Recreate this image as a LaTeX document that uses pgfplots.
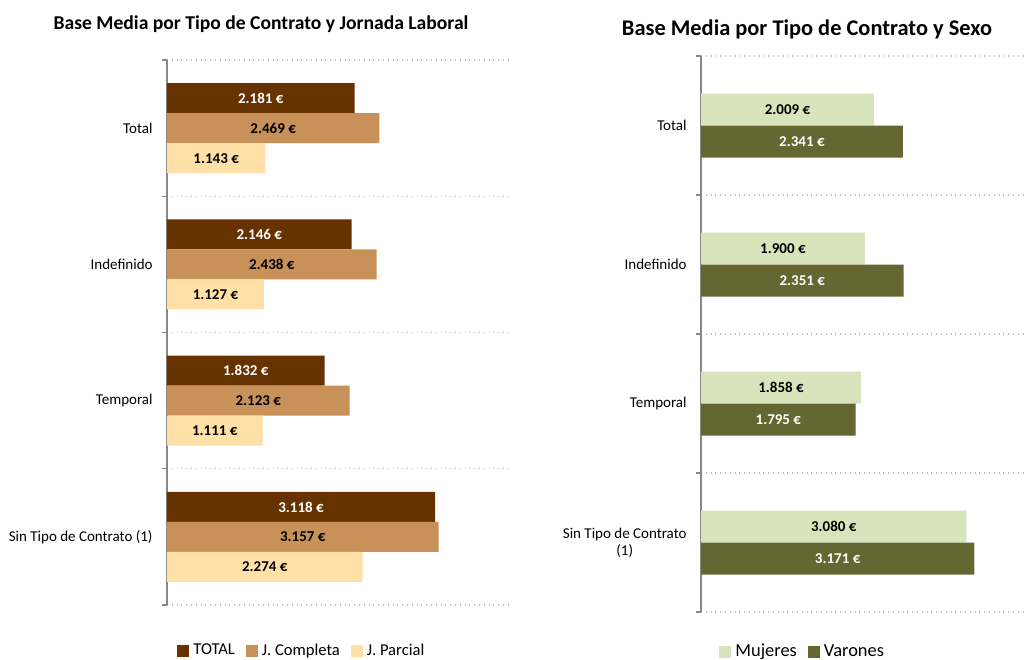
\documentclass[border=0pt]{standalone}
\usepackage{fontspec}
\setmainfont{Carlito}
\usepackage{pgfplots}
\pgfplotsset{compat=1.18}

\definecolor{cTotal}{RGB}{102,51,0}
\definecolor{cComp}{RGB}{200,145,90}
\definecolor{cParc}{RGB}{255,224,166}
\definecolor{cMuj}{RGB}{216,228,188}
\definecolor{cVar}{RGB}{102,102,51}
\definecolor{cGrid}{RGB}{200,190,150}
\definecolor{cAxis}{RGB}{135,135,135}

% shared look of both panels (1 px of the reference = 0.5pt)
\pgfplotsset{
  panel/.style={
    xbar, scale only axis, clip=false,
    y dir=reverse, ymin=-0.5, ymax=3.5,
    xmin=0,
    axis x line=none, axis y line*=left,
    y axis line style={draw=cAxis, line width=0.8pt},
    ytick={0,1,2,3}, major tick length=0pt,
    minor ytick={-0.5,0.5,1.5,2.5,3.5}, minor tick length=2.5pt,
    tick align=outside, tick style={draw=cAxis, line width=0.6pt},
    yminorgrids=true,
    minor grid style={draw=cGrid, dotted, line width=0.6pt},
    yticklabel style={font=\fontsize{7.5}{8.5}\selectfont, inner sep=0pt, xshift=-7pt, align=right},
    /pgf/number format/assume math mode=true,
    /pgf/number format/1000 sep={.},
    /pgf/number format/fixed, /pgf/number format/precision=0,
    visualization depends on=rawx \as \rawx,
    nodes near coords={\pgfmathprintnumber{\pgfplotspointmeta}~€},
    every node near coord/.append style={anchor=center, font=\bfseries\fontsize{7.5}{8.5}\selectfont,
      shift={(axis direction cs:-\rawx/2,0)}},
    legend columns=-1,
    legend style={draw=none, fill=none, inner sep=0pt,
      /tikz/every even column/.append style={column sep=3.5pt}},
    legend image code/.code={\fill[##1] (0pt,-3pt) rectangle (6pt,3pt);},
  },
}

\begin{document}
\begin{tikzpicture}
\useasboundingbox (0,0) rectangle (514pt,-329.5pt);

% left panel
\node[font=\bfseries\fontsize{9.8}{11}\selectfont] at (130.5pt,-12pt) {Base Media por Tipo de Contrato y Jornada Laboral};
\begin{axis}[panel,
  at={(83.5pt,-30pt)}, anchor=north west,
  width=172pt, height=272.5pt, xmax=4000,
  yticklabels={Total,Indefinido,Temporal,Sin Tipo de Contrato (1)},
  legend style={at={(0.395,-0.084)}, anchor=center, font=\fontsize{8.3}{9}\selectfont},
]
\addplot+[draw=none, fill=cTotal, bar width=15pt, bar shift=15pt,
  every node near coord/.append style={text=white}]
  coordinates {(2181,0) (2146,1) (1832,2) (3118,3)};
\addplot+[draw=none, fill=cComp, bar width=15pt, bar shift=0pt,
  every node near coord/.append style={text=black}]
  coordinates {(2469,0) (2438,1) (2123,2) (3157,3)};
\addplot+[draw=none, fill=cParc, bar width=15pt, bar shift=-15pt,
  every node near coord/.append style={text=black}]
  coordinates {(1143,0) (1127,1) (1111,2) (2274,3)};
\legend{TOTAL, J. Completa, J. Parcial}
\end{axis}

% right panel
\node[font=\bfseries\fontsize{11.2}{12}\selectfont] at (403.5pt,-14.5pt) {Base Media por Tipo de Contrato y Sexo};
\begin{axis}[panel,
  at={(350.5pt,-28pt)}, anchor=north west,
  width=163pt, height=278pt, xmax=3782,
  yticklabels={Total,Indefinido,Temporal,{Sin Tipo de Contrato\\(1)}},
  yticklabel style={align=center},
  legend style={at={(0.315,-0.072)}, anchor=center, font=\fontsize{9.2}{10}\selectfont},
]
\addplot+[draw=none, fill=cMuj, bar width=16pt, bar shift=8pt,
  every node near coord/.append style={text=black}]
  coordinates {(2009,0) (1900,1) (1858,2) (3080,3)};
\addplot+[draw=none, fill=cVar, bar width=16pt, bar shift=-8pt,
  every node near coord/.append style={text=white}]
  coordinates {(2341,0) (2351,1) (1795,2) (3171,3)};
\legend{Mujeres, Varones}
\end{axis}
\end{tikzpicture}
\end{document}
